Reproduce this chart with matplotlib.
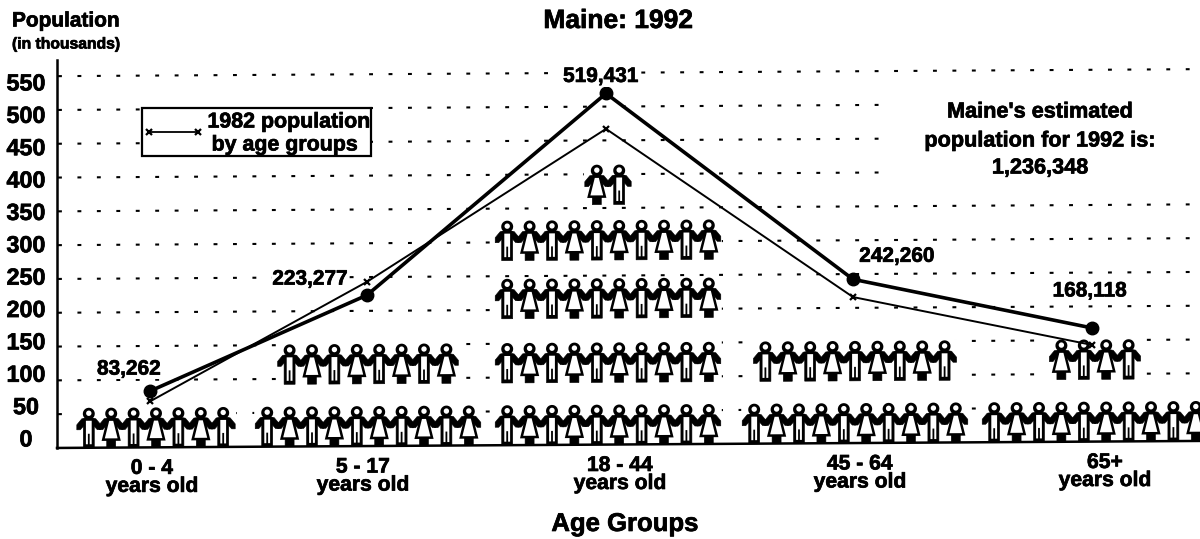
import numpy as np
import matplotlib
matplotlib.use('Agg')
import matplotlib.pyplot as plt
import matplotlib.patheffects as pe
from matplotlib.path import Path
from matplotlib.patches import PathPatch, Rectangle
from matplotlib.transforms import Affine2D

age_groups = ['0 - 4', '5 - 17', '18 - 44', '45 - 64', '65+']
pop_1992 = [83.262, 223.277, 519.431, 242.260, 168.118]
pop_1982 = [68, 243, 467, 216, 143]
value_labels = ['83,262', '223,277', '519,431', '242,260', '168,118']
y_ticks = [0, 50, 100, 150, 200, 250, 300, 350, 400, 450, 500, 550]

# people per row, bottom row first
people_rows = [[7], [10, 8], [10, 10, 10, 10, 2], [10, 9], [10, 4]]
row_heights = [0, 92, 187, 273, 355]

plt.rcParams['font.family'] = ['Liberation Sans', 'DejaVu Sans']
plt.rcParams['font.weight'] = 'bold'
plt.rcParams['lines.scale_dashes'] = False

# layout, in pixels
group_x = [150, 367, 606, 853, 1092]
people_x = [156, 368, 608, 855, 1095]
label_x = [152, 363, 620, 860, 1105]
px_per_unit = 0.676
slope = 0.00614
heavy = [pe.withStroke(linewidth=0.5, foreground='black')]

fig = plt.figure(figsize=(12, 5.39), dpi=100)
ax = fig.add_axes([0, 0, 1, 1])
ax.set_xlim(0, 1200)
ax.set_ylim((448.3 - 539) / px_per_unit, 448.3 / px_per_unit)
ax.axis('off')

# the scan is slightly rotated, baseline climbs to the right
tilt = ax.transData + Affine2D().skew(0, slope)


def u(px):
    return px / px_per_unit


def poly(points, x, base, **kw):
    pts = [(x + a, base + u(b)) for a, b in points]
    ax.add_patch(PathPatch(Path(pts + pts[:1], closed=True), transform=tilt, zorder=3, **kw))


def person(x, base, female):
    # arms
    for s in (-1, 1):
        poly([(s * 1, 30), (s * 7, 29), (s * 12, 23), (s * 12, 18), (s * 8.5, 18), (s * 4, 23)],
             x, base, fc='black', ec='black', lw=0.4)
    if female:
        poly([(-4.5, 0), (4.5, 0), (4.5, 9), (-4.5, 9)], x, base, fc='black', ec='black', lw=0.4)
        poly([(-3, 28), (3, 28), (8, 8), (-8, 8)], x, base, fc='white', ec='black', lw=1.8)
    else:
        poly([(-5.5, 0), (5.5, 0), (5.5, 29), (-5.5, 29)], x, base, fc='black', ec='black', lw=0.4)
        poly([(-2.9, 3.5), (2.9, 3.5), (2.9, 27), (-2.9, 27)], x, base, fc='white', ec='none')
        poly([(-0.9, 1), (0.9, 1), (0.9, 14), (-0.9, 14)], x, base, fc='black', ec='none')
    # head
    th = np.linspace(0, 2 * np.pi, 24)
    poly(list(zip(6 * np.cos(th), 34 + 6 * np.sin(th))), x, base, fc='black', ec='none')
    poly(list(zip(2.7 * np.cos(th), 34.5 + 2.7 * np.sin(th))), x, base, fc='white', ec='none')


def px_text(x, y, s, size, **kw):
    fig.text(x / 1200, 1 - y / 539, s, fontsize=size, ha=kw.pop('ha', 'center'), va='center',
             path_effects=heavy, **kw)


# gridlines and axes
for v in y_ticks[1:]:
    ax.plot([58, 1200], [v, v], color='black', lw=1.5, ls=(0, (2.8, 11.2)), dash_capstyle='butt',
            transform=tilt, zorder=1)
ax.plot([57, 1200], [0, 0], color='black', lw=1.8, transform=tilt, zorder=4)
ax.plot([57, 57], [0, u(388)], color='black', lw=1.8, transform=tilt, zorder=4)

# white area behind the note
ax.add_patch(Rectangle((888, u(255)), 302, u(95), fc='white', ec='none', transform=tilt, zorder=2))

# pictogram
for cx, rows in zip(people_x, people_rows):
    for height, count in zip(row_heights, rows):
        female_first = count in (2, 4)
        half = (count - 1) / 2 * 22.4 + 13
        ax.add_patch(Rectangle((cx - half, height), 2 * half, u(41), fc='white', ec='none',
                               transform=tilt, zorder=2))
        for k in range(count):
            person(cx + (k - (count - 1) / 2) * 22.4, height, (k % 2 == 1) != female_first)

# lines
ax.plot(group_x, pop_1982, color='black', lw=1.4, marker='x', ms=5, mew=1.6, transform=tilt, zorder=5)
ax.plot(group_x, pop_1992, color='black', lw=2.6, marker='o', ms=9, transform=tilt, zorder=6)

# value labels
label_offsets = [(-21, 22), (-57, 16), (-5, 17), (44, 23), (-2, 37)]
for gx, v, s, off in zip(group_x, pop_1992, value_labels, label_offsets):
    ax.annotate(s, (gx, v), xycoords=tilt, xytext=(off[0] * 0.72, off[1] * 0.72), textcoords='offset points',
                ha='center', va='center', fontsize=15, zorder=7, path_effects=heavy,
                bbox=dict(fc='white', ec='none', pad=0.5))

# axis text
for v in y_ticks:
    px_text(26, 440 - v * 0.6473, str(v), 16.8)
for lx, name in zip(label_x, age_groups):
    ax.text(lx, u(-21), name, fontsize=15.2, ha='center', va='center', transform=tilt, zorder=7,
            path_effects=heavy)
    ax.text(lx, u(-39), 'years old', fontsize=15.2, ha='center', va='center', transform=tilt, zorder=7,
            path_effects=heavy)

px_text(618, 21, 'Maine: 1992', 19)
px_text(625, 524, 'Age Groups', 18.5)
px_text(12, 21, 'Population', 15, ha='left')
px_text(12, 44, '(in thousands)', 11.3, ha='left')

# legend box
fig.add_artist(Rectangle((142 / 1200, 1 - 156 / 539), 229 / 1200, 48 / 539, transform=fig.transFigure,
                         fc='white', ec='black', lw=1.6, zorder=8))
fig.add_artist(plt.Line2D([149 / 1200, 198 / 1200], [1 - 132 / 539] * 2, transform=fig.transFigure,
                          color='black', lw=1.3, marker='x', ms=5, mew=1.6, zorder=9))
px_text(289, 122, '1982 population', 15.4, zorder=9)
px_text(285, 145, 'by age groups', 15.4, zorder=9)

# note
for yy, line in zip([112, 141, 168], ["Maine's estimated", 'population for 1992 is:', '1,236,348']):
    px_text(1040, yy, line, 15.6, zorder=8)

fig.savefig('out.png', dpi=100)
